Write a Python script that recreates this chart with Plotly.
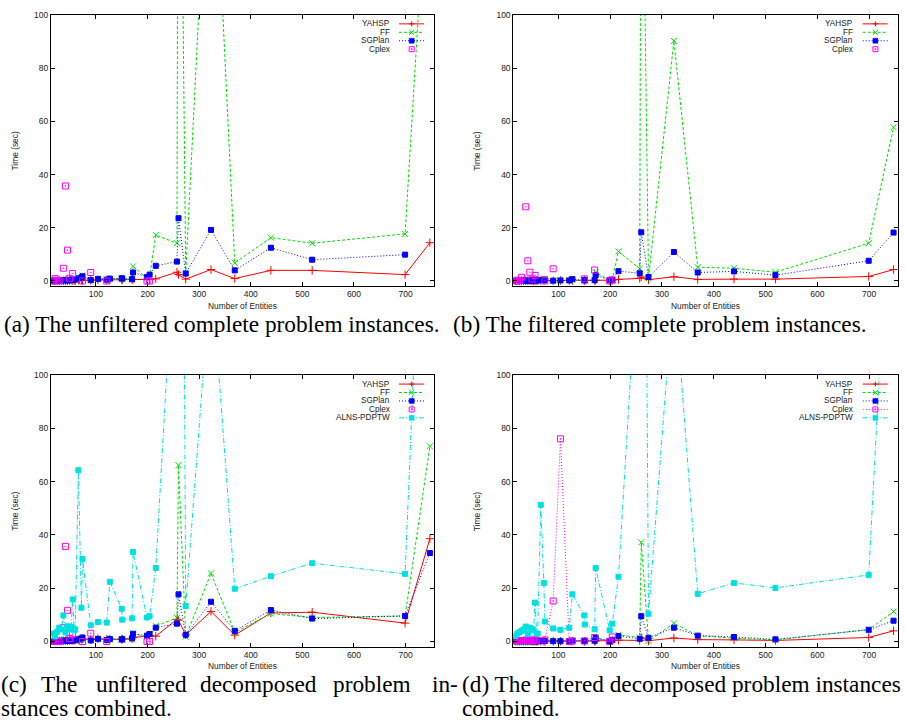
import plotly.graph_objects as go

W, H = 905, 726

# ---------------- data ----------------
ENTITIES = [17, 21, 25, 29, 33, 37, 41, 45, 49, 52, 55, 58, 60, 66, 72, 74, 90, 104, 121, 127,
            150, 151, 170, 172, 199, 204, 216, 257, 260, 274, 323, 369, 439, 519, 699, 747]
X_TICKS = [100, 200, 300, 400, 500, 600, 700]
Y_TICKS = [0, 20, 40, 60, 80, 100]
N = None

# (a) unfiltered complete
YAHSP_A = [0.1, 0.1, 0.1, 0.1, 0.1, 0.1, 0.1, 0.1, 0.2, 0.2, 0.2, 0.2, 0.2, 0.3, 0.3, 0.3, 0.3, 0.4, 0.4, 0.4,
           0.5, 0.5, 0.6, 0.6, 0.5, 0.6, 0.8, 3.3, 2.4, 0.7, 4.3, 0.9, 4.0, 4.0, 2.4, 14.4]
FF_A = [0.1, 0.1, 0.1, 0.2, 0.2, 0.2, 0.3, 0.3, 0.4, 0.5, 0.5, 0.6, 0.8, 1.2, 1.5, 2.0, 0.4, 0.8, 0.6, 0.8,
        0.9, 0.9, 0.5, 5.5, 1.0, 1.5, 17.3, 14.2, 270, 3.0, 193, 6.8, 16.3, 14.2, 17.7, 172]
SGPLAN_A = [0.1, 0.1, 0.1, 0.2, 0.2, 0.2, 0.3, 0.2, 0.3, 0.4, 0.4, 0.5, 0.6, 1.0, 1.2, 1.8, 0.3, 0.8, 0.5, 0.9,
            1.0, 0.9, 0.7, 3.2, 1.5, 2.4, 5.7, 7.3, 23.6, 2.8, 19.2, 4.0, 12.5, 8.0, 9.9, N]
CPLEX_A = [0.0, 0.9, 0.0, 0.1, N, 4.8, 35.7, 11.6, 1.0, N, 2.8, N, N, N, N, 0.0, 3.2, N, 0.0, N,
           N, N, N, N, 0.0, 0.0, N, N, N, N, N, N, N, N, N, N]

# (b) filtered complete
YAHSP_B = [0.1, 0.1, 0.1, 0.1, 0.1, 0.1, 0.1, 0.1, 0.1, 0.1, 0.1, 0.2, 0.2, 0.2, 0.2, 0.2, 0.1, 0.2, 0.2, 0.2,
           0.2, 0.2, 0.2, 0.3, 0.2, 0.3, 0.6, 1.0, 1.5, 0.5, 1.6, 0.6, 0.7, 0.7, 1.7, 4.3]
FF_B = [0.1, 0.1, 0.1, 0.1, 0.2, 0.2, 0.2, 0.2, 0.3, 0.3, 0.3, 0.4, 0.4, 0.5, 0.6, 0.8, 0.2, 0.3, 0.3, 0.4,
        0.3, 0.3, 0.3, 3.2, 0.3, 0.5, 11.1, 4.6, 210, 1.0, 90.2, 5.2, 4.8, 3.3, 14.2, 57.8]
SGPLAN_B = [0.1, 0.1, 0.1, 0.1, 0.1, 0.1, 0.1, 0.1, 0.1, 0.2, 0.2, 0.2, 0.2, 0.3, 0.4, 0.5, 0.1, 0.2, 0.2, 0.7,
            0.3, 0.2, 0.3, 2.2, 0.3, 0.5, 3.7, 2.9, 18.3, 1.5, 10.9, 3.2, 3.6, 2.2, 7.6, 18.2]
CPLEX_B = [0.0, 0.0, 0.2, 1.4, N, 27.9, 7.6, 3.3, 0.7, N, 2.1, N, N, N, N, 0.1, 4.6, N, N, N,
           0.8, N, 4.1, N, 0.0, 0.3, N, N, N, N, N, N, N, N, N, N]

# (c) unfiltered decomposed
YAHSP_C = [0.2, 0.2, 0.2, 0.2, 0.3, 0.3, 0.3, 0.3, 0.4, 0.4, 0.4, 0.5, 0.5, 0.6, 0.8, 1.0, 0.7, 1.0, 0.8, 0.9,
           0.8, 0.9, 1.0, 1.5, 2.0, 2.3, 2.0, 8.3, 8.0, 2.5, 11.3, 2.4, 10.7, 11.0, 6.9, 38.6]
FF_C = [0.2, 0.2, 0.2, 0.3, 0.3, 0.3, 0.4, 0.4, 0.5, 0.5, 0.6, 0.6, 0.7, 0.9, 1.1, 1.3, 0.5, 0.9, 0.7, 0.8,
        0.8, 0.8, 0.8, 3.0, 1.7, 2.5, 5.8, 8.9, 66.2, 1.8, 25.6, 3.4, 10.5, 9.0, 9.6, 73.3]
SGPLAN_C = [0.1, 0.1, 0.2, 0.2, 0.2, 0.3, 0.3, 0.2, 0.3, 0.4, 0.4, 0.5, 0.5, 0.8, 1.1, 1.5, 0.4, 1.0, 0.6, 0.9,
            0.8, 0.8, 1.2, 2.9, 2.2, 2.8, 5.2, 6.7, 17.7, 2.5, 14.9, 4.0, 11.8, 8.6, 9.6, 33.2]
CPLEX_C = [0.0, 0.0, 0.0, 0.0, N, 5.2, 35.7, 11.7, 1.1, N, 2.7, N, N, N, N, 0.0, 3.1, N, 0.0, N,
           N, N, N, N, 0.0, 0.0, N, N, N, N, N, N, N, N, N, N]
ALNS_C = [3.0, 1.9, 3.7, 5.2, 4.5, 9.8, 3.4, 5.7, 4.6, 5.5, 15.8, 4.2, 4.6, 64.3, 12.7, 31.0, 6.1, 7.3, 7.1, 22.4,
          12.3, 8.2, 8.7, 33.6, 9.0, 9.5, 27.6, 169, 519, 13.3, 140, 19.8, 24.5, 29.4, 25.4, 249]

# (d) filtered decomposed
YAHSP_D = [0.1, 0.1, 0.1, 0.1, 0.1, 0.1, 0.1, 0.1, 0.1, 0.1, 0.1, 0.1, 0.1, 0.1, 0.1, 0.1, 0.1, 0.1, 0.1, 0.1,
           0.1, 0.1, 0.1, 0.2, 0.2, 0.3, 0.5, 0.4, 1.4, 0.3, 1.3, 0.7, 0.6, 0.4, 1.5, 4.0]
FF_D = [0.1, 0.1, 0.1, 0.1, 0.1, 0.1, 0.1, 0.1, 0.1, 0.1, 0.2, 0.2, 0.2, 0.2, 0.2, 0.3, 0.1, 0.2, 0.2, 0.3,
        0.2, 0.2, 0.4, 1.2, 0.3, 0.5, 2.5, 1.5, 37.2, 0.2, 6.8, 2.2, 1.2, 0.6, 4.5, 11.2]
SGPLAN_D = [0.1, 0.1, 0.1, 0.1, 0.1, 0.1, 0.1, 0.1, 0.1, 0.1, 0.1, 0.1, 0.1, 0.1, 0.2, 0.2, 0.1, 0.1, 0.1, 0.3,
            0.2, 0.2, 0.3, 1.3, 0.2, 0.5, 2.0, 1.0, 9.5, 1.4, 5.2, 2.2, 1.7, 0.8, 4.4, 7.8]
CPLEX_D = [0.2, 0.3, 0.3, 0.4, 0.4, 0.5, 0.5, 0.4, 0.5, 0.5, 0.6, 0.5, N, N, N, 0.6, 15.2, 76.1, 0.0, 0.2,
           0.2, N, 1.5, N, 0.0, 1.7, N, N, N, N, N, N, N, N, N, N]
ALNS_D = [2.1, 3.0, 3.5, 4.0, 4.5, 5.6, 2.8, 5.2, 4.6, 4.2, 14.6, 3.0, 3.0, 51.3, 22.0, 7.5, 4.9, 4.4, 5.2, 17.7,
          9.8, 6.4, 4.6, 27.6, 4.2, 6.7, 24.3, 157, 428, 10.4, 135, 17.9, 22.0, 20.1, 25.0, 201]

CAPTIONS = {
    "a": ["(a) The unfiltered complete problem instances."],
    "b": ["(b) The filtered complete problem instances."],
    "c": ["(c) The unfiltered decomposed problem in-", "stances combined."],
    "d": ["(d) The filtered decomposed problem instances", "combined."],
}

# ---------------- styles ----------------
STYLE = {
    "YAHSP": dict(color="#ff0000", dash="solid", symbol="cross-thin-open", size=6, mk="plus"),
    "FF": dict(color="#00dd00", dash="3px,2px", symbol="x-thin-open", size=6, mk="x"),
    "SGPlan": dict(color="#0000ff", dash="1px,2px", symbol="square", size=5, mk="sq"),
    "Cplex": dict(color="#ff00ff", dash="1px,2px", symbol="square-open-dot", size=6, mk="osq"),
    "ALNS-PDPTW": dict(color="#00e0e0", dash="5px,2px,1px,2px", symbol="square", size=5, mk="sq"),
}

PANELS = [
    dict(key="a", L=51, R=434, T=10, B=283,
         series=[("YAHSP", YAHSP_A, True), ("FF", FF_A, True), ("SGPlan", SGPLAN_A, True), ("Cplex", CPLEX_A, False)]),
    dict(key="b", L=513.3, R=897.7, T=10, B=283,
         series=[("YAHSP", YAHSP_B, True), ("FF", FF_B, True), ("SGPlan", SGPLAN_B, True), ("Cplex", CPLEX_B, False)]),
    dict(key="c", L=51, R=434, T=372.7, B=646,
         series=[("YAHSP", YAHSP_C, True), ("FF", FF_C, True), ("SGPlan", SGPLAN_C, True), ("Cplex", CPLEX_C, False),
                 ("ALNS-PDPTW", ALNS_C, True)]),
    dict(key="d", L=513.3, R=897.7, T=372.7, B=646,
         series=[("YAHSP", YAHSP_D, True), ("FF", FF_D, True), ("SGPlan", SGPLAN_D, True), ("Cplex", CPLEX_D, True),
                 ("ALNS-PDPTW", ALNS_D, True)]),
]

X_RANGE = [13, 755]
Y_RANGE = [-1.9, 100]
SANS = "Liberation Sans, Arial, sans-serif"
SERIF = "Liberation Serif, Times New Roman, serif"


def fx(px):
    return px / W


def fy(py):
    return 1 - py / H


fig = go.Figure()
layout = dict(width=W, height=H, margin=dict(l=0, r=0, t=0, b=0), paper_bgcolor="white",
              plot_bgcolor="white", showlegend=False)
shapes, annotations = [], []

for i, p in enumerate(PANELS):
    n = "" if i == 0 else str(i + 1)
    xa, ya = "xaxis" + n, "yaxis" + n
    axis_common = dict(showline=True, linecolor="black", linewidth=1, mirror="ticks", ticks="inside",
                       ticklen=4, tickcolor="black", tickwidth=1, showgrid=False, zeroline=False,
                       tickfont=dict(family=SANS, size=8.5, color="#222"), fixedrange=True)
    layout[xa] = dict(axis_common, domain=[fx(p["L"]), fx(p["R"])], range=X_RANGE, tickvals=X_TICKS,
                      anchor="y" + n)
    layout[ya] = dict(axis_common, domain=[fy(p["B"]), fy(p["T"])], range=Y_RANGE, tickvals=Y_TICKS,
                      anchor="x" + n)

    for name, vals, has_line in p["series"]:
        st = STYLE[name]
        fig.add_trace(go.Scatter(
            x=ENTITIES, y=vals, name=name, xaxis="x" + n, yaxis="y" + n,
            mode="lines+markers" if has_line else "markers", connectgaps=True,
            line=dict(color=st["color"], width=1, dash=st["dash"]),
            marker=dict(symbol=st["symbol"], size=st["size"], color=st["color"],
                        line=dict(color=st["color"], width=1)),
            cliponaxis=True,
        ))

    # legend (gnuplot style: right-aligned text, sample on the right)
    for j, (name, vals, has_line) in enumerate(p["series"]):
        st = STYLE[name]
        yy = p["T"] + 9 + 8.5 * j
        annotations.append(dict(text=name, x=fx(p["R"] - 43.3), y=fy(yy), xref="paper", yref="paper",
                                xanchor="right", yanchor="middle", showarrow=False, borderpad=0,
                                font=dict(family=SANS, size=8.2, color="#222")))
        if has_line:
            shapes.append(dict(type="line", xref="paper", yref="paper", x0=fx(p["R"] - 35), x1=fx(p["R"] - 10),
                               y0=fy(yy), y1=fy(yy), line=dict(color=st["color"], width=1, dash=st["dash"])))
        cx, s = p["R"] - 22.3, 2.5
        if st["mk"] == "plus":
            shapes.append(dict(type="line", xref="paper", yref="paper", x0=fx(cx - s), x1=fx(cx + s),
                               y0=fy(yy), y1=fy(yy), line=dict(color=st["color"], width=1)))
            shapes.append(dict(type="line", xref="paper", yref="paper", x0=fx(cx), x1=fx(cx),
                               y0=fy(yy - s), y1=fy(yy + s), line=dict(color=st["color"], width=1)))
        elif st["mk"] == "x":
            shapes.append(dict(type="line", xref="paper", yref="paper", x0=fx(cx - s), x1=fx(cx + s),
                               y0=fy(yy - s), y1=fy(yy + s), line=dict(color=st["color"], width=1)))
            shapes.append(dict(type="line", xref="paper", yref="paper", x0=fx(cx - s), x1=fx(cx + s),
                               y0=fy(yy + s), y1=fy(yy - s), line=dict(color=st["color"], width=1)))
        elif st["mk"] == "sq":
            shapes.append(dict(type="rect", xref="paper", yref="paper", x0=fx(cx - s), x1=fx(cx + s),
                               y0=fy(yy + s), y1=fy(yy - s), fillcolor=st["color"],
                               line=dict(color=st["color"], width=0.5)))
        else:
            shapes.append(dict(type="rect", xref="paper", yref="paper", x0=fx(cx - s), x1=fx(cx + s),
                               y0=fy(yy + s), y1=fy(yy - s), line=dict(color=st["color"], width=1)))
            shapes.append(dict(type="rect", xref="paper", yref="paper", x0=fx(cx - 0.6), x1=fx(cx + 0.6),
                               y0=fy(yy + 0.6), y1=fy(yy - 0.6), fillcolor=st["color"],
                               line=dict(color=st["color"], width=0.5)))

    # axis titles
    annotations.append(dict(text="Number of Entities", x=fx((p["L"] + p["R"]) / 2), y=fy(p["B"] + 20),
                            xref="paper", yref="paper", xanchor="center", yanchor="middle", showarrow=False,
                            borderpad=0, font=dict(family=SANS, size=8.4, color="#222")))
    annotations.append(dict(text="Time (sec)", x=fx(p["L"] - 36), y=fy((p["T"] + p["B"]) / 2 + 1),
                            xref="paper", yref="paper", xanchor="center", yanchor="middle", showarrow=False,
                            textangle=-90, font=dict(family=SANS, size=8.4, color="#222")))

# captions
CAP_FONT = dict(family=SERIF, size=23.3, color="black")
annotations.append(dict(text=CAPTIONS["a"][0], x=fx(3), y=fy(321), xref="paper", yref="paper",
                        xanchor="left", yanchor="middle", showarrow=False, borderpad=0, font=CAP_FONT))
annotations.append(dict(text=CAPTIONS["b"][0], x=fx(452), y=fy(321), xref="paper", yref="paper",
                        xanchor="left", yanchor="middle", showarrow=False, borderpad=0, font=CAP_FONT))
# justified first line of (c)
c_words = CAPTIONS["c"][0].split(" ")
c_pos = [0, 40, 95, 199, 332, 431]
for wd, xp in zip(c_words, c_pos):
    annotations.append(dict(text=wd, x=fx(xp), y=fy(684), xref="paper", yref="paper",
                            xanchor="left", yanchor="middle", showarrow=False, borderpad=0, font=CAP_FONT))
annotations.append(dict(text=CAPTIONS["c"][1], x=fx(0), y=fy(708), xref="paper", yref="paper",
                        xanchor="left", yanchor="middle", showarrow=False, borderpad=0, font=CAP_FONT))
annotations.append(dict(text=CAPTIONS["d"][0], x=fx(461), y=fy(684), xref="paper", yref="paper",
                        xanchor="left", yanchor="middle", showarrow=False, borderpad=0, font=CAP_FONT))
annotations.append(dict(text=CAPTIONS["d"][1], x=fx(461), y=fy(708), xref="paper", yref="paper",
                        xanchor="left", yanchor="middle", showarrow=False, borderpad=0, font=CAP_FONT))

layout["shapes"] = shapes
layout["annotations"] = annotations
fig.update_layout(**layout)
fig.write_html("out.html")
